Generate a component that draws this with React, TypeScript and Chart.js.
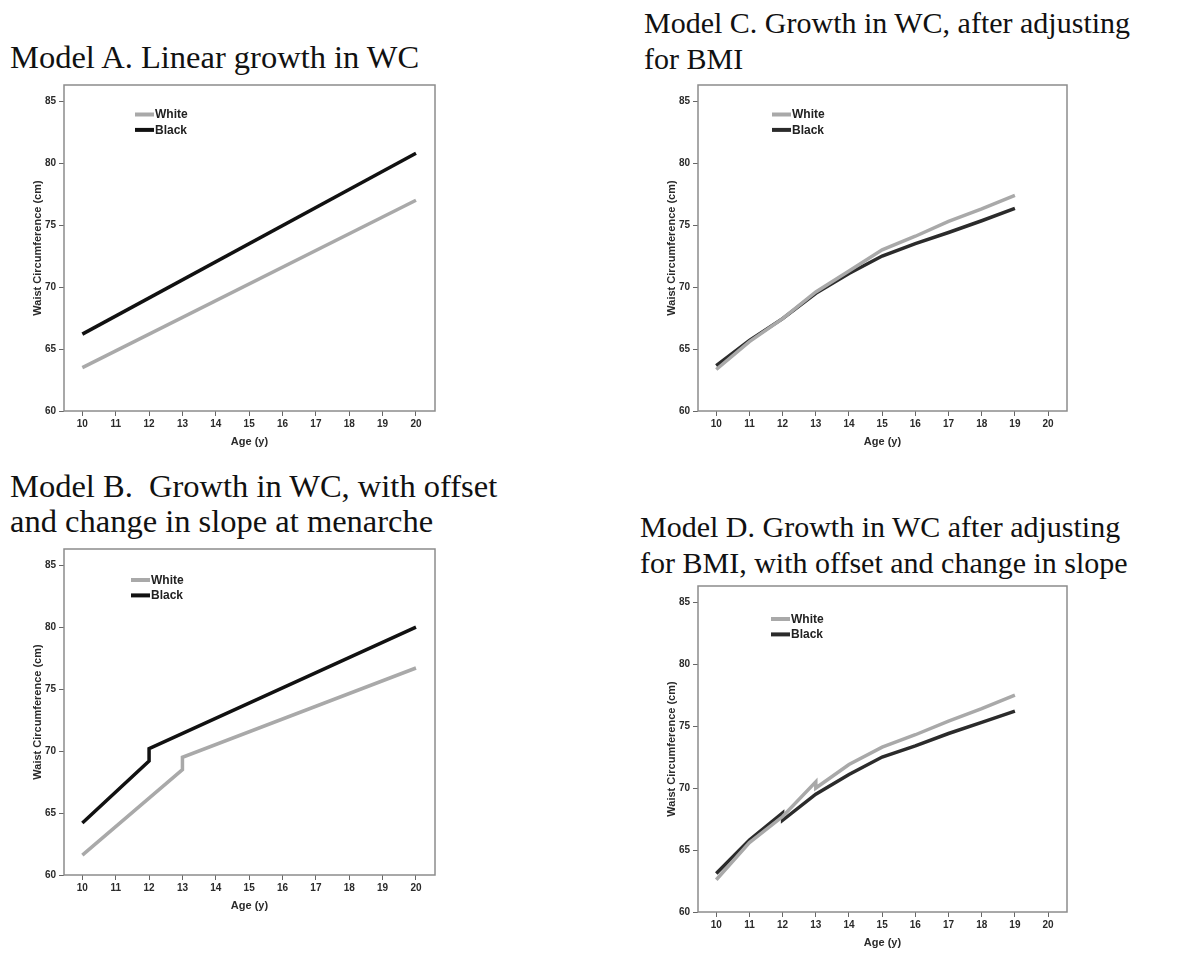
import React, { useEffect, useRef } from "react";
import { Chart, registerables } from "chart.js";

Chart.register(...registerables);

// ---- shared axis settings ----
const yTickValues = [60, 65, 70, 75, 80, 85];
const xTickValues = [10, 11, 12, 13, 14, 15, 16, 17, 18, 19, 20];
const Y_MIN = 60;
const Y_MAX = 86.3;
const X_MIN = 9.45;
const X_MAX = 20.57;
const xAxisTitle = "Age (y)";
const yAxisTitle = "Waist Circumference (cm)";
const seriesNames = ["White", "Black"];

// ---- Model A ----
const whiteAgesA = [10, 20];
const whiteA = [63.5, 77.0];
const blackAgesA = [10, 20];
const blackA = [66.2, 80.8];

// ---- Model B ----
const whiteAgesB = [10, 13, 13, 20];
const whiteB = [61.6, 68.5, 69.5, 76.7];
const blackAgesB = [10, 12, 12, 20];
const blackB = [64.2, 69.2, 70.2, 80.0];

// ---- Model C ----
const whiteAgesC = [10, 11, 12, 13, 14, 15, 16, 17, 18, 19];
const whiteC = [63.35, 65.6, 67.45, 69.6, 71.3, 73.0, 74.1, 75.3, 76.3, 77.4];
const blackAgesC = [10, 11, 12, 13, 14, 15, 16, 17, 18, 19];
const blackC = [63.65, 65.7, 67.45, 69.5, 71.1, 72.5, 73.5, 74.4, 75.35, 76.35];

// ---- Model D ----
const whiteAgesD = [10, 11, 12, 13, 13, 14, 15, 16, 17, 18, 19];
const whiteD = [62.6, 65.6, 67.7, 70.5, 70.0, 71.9, 73.3, 74.3, 75.4, 76.4, 77.5];
const blackAgesD = [10, 11, 12, 12, 13, 14, 15, 16, 17, 18, 19];
const blackD = [63.1, 65.8, 68.0, 67.4, 69.5, 71.1, 72.5, 73.4, 74.4, 75.3, 76.2];

const titleA = ["Model A. Linear growth in WC"];
const titleB = ["Model B.  Growth in WC, with offset", "and change in slope at menarche"];
const titleC = ["Model C. Growth in WC, after adjusting", "for BMI"];
const titleD = ["Model D. Growth in WC after adjusting", "for BMI, with offset and change in slope"];

const toPoints = (xs: number[], ys: number[]) => xs.map((x, i) => ({ x, y: ys[i] }));

type PanelProps = {
  title: string[];
  titleLeft: number;
  titleTop: number;
  titleSize: number;
  titleLineHeight: number;
  chartLeft: number;
  chartTop: number;
  chartW: number;
  chartH: number;
  white: { x: number; y: number }[];
  black: { x: number; y: number }[];
  blackColor: string;
  legendDx: number;
  legendDy: number;
  legendRow: number;
};

const Y_AXIS_W = 64;
const X_AXIS_H = 52;
const PAD_TOP = 8;
const PAD_RIGHT = 10;

function Panel(p: PanelProps) {
  const ref = useRef<HTMLCanvasElement | null>(null);
  const cw = Y_AXIS_W + p.chartW + PAD_RIGHT;
  const ch = PAD_TOP + p.chartH + X_AXIS_H;

  useEffect(() => {
    if (!ref.current) return;
    const framePlugin = {
      id: "frame",
      beforeDatasetsDraw(chart: any) {
        const { ctx, chartArea } = chart;
        ctx.save();
        ctx.strokeStyle = "#8c8c8c";
        ctx.lineWidth = 1.5;
        ctx.strokeRect(chartArea.left, chartArea.top, chartArea.right - chartArea.left, chartArea.bottom - chartArea.top);
        ctx.restore();
      },
    };
    const legendPlugin = {
      id: "insetLegend",
      afterDatasetsDraw(chart: any) {
        const { ctx, chartArea } = chart;
        ctx.save();
        chart.data.datasets.forEach((ds: any, i: number) => {
          const x0 = chartArea.left + p.legendDx;
          const y0 = chartArea.top + p.legendDy + i * p.legendRow;
          ctx.strokeStyle = ds.borderColor;
          ctx.lineWidth = 4;
          ctx.beginPath();
          ctx.moveTo(x0, y0);
          ctx.lineTo(x0 + 19, y0);
          ctx.stroke();
          ctx.fillStyle = "#222";
          ctx.font = "bold 12px 'Liberation Sans', Arial, sans-serif";
          ctx.textBaseline = "middle";
          ctx.textAlign = "left";
          ctx.fillText(ds.label, x0 + 20, y0 + 0.5);
        });
        ctx.restore();
      },
    };
    const tickFont = { family: "'Liberation Sans', Arial, sans-serif", size: 10, weight: "bold" as const };
    const titleFont = { family: "'Liberation Sans', Arial, sans-serif", size: 11, weight: "bold" as const };
    const chart = new Chart(ref.current, {
      type: "line",
      data: {
        datasets: [
          {
            label: seriesNames[0],
            data: p.white,
            borderColor: "#a9a9a9",
            borderWidth: 3.5,
            pointRadius: 0,
            tension: 0,
          },
          {
            label: seriesNames[1],
            data: p.black,
            borderColor: p.blackColor,
            borderWidth: 3.5,
            pointRadius: 0,
            tension: 0,
          },
        ],
      },
      options: {
        animation: false,
        responsive: false,
        maintainAspectRatio: false,
        layout: { padding: { top: PAD_TOP, right: PAD_RIGHT, left: 0, bottom: 0 } },
        plugins: { legend: { display: false }, tooltip: { enabled: false } },
        scales: {
          x: {
            type: "linear",
            min: X_MIN,
            max: X_MAX,
            afterBuildTicks: (s: any) => {
              s.ticks = xTickValues.map((v) => ({ value: v }));
            },
            afterFit: (s: any) => {
              s.height = X_AXIS_H;
            },
            ticks: { color: "#2a2a2a", font: tickFont, padding: 2, maxRotation: 0, autoSkip: false },
            grid: { drawOnChartArea: false, drawTicks: true, tickLength: 5, color: "#666", lineWidth: 1 },
            border: { display: false },
            title: { display: true, text: xAxisTitle, color: "#2a2a2a", font: titleFont, padding: { top: 0, bottom: 14 } },
          },
          y: {
            type: "linear",
            min: Y_MIN,
            max: Y_MAX,
            afterBuildTicks: (s: any) => {
              s.ticks = yTickValues.map((v) => ({ value: v }));
            },
            afterFit: (s: any) => {
              s.width = Y_AXIS_W;
            },
            ticks: { color: "#2a2a2a", font: tickFont, padding: 3 },
            grid: { drawOnChartArea: false, drawTicks: true, tickLength: 5, color: "#666", lineWidth: 1 },
            border: { display: false },
            title: { display: true, text: yAxisTitle, color: "#2a2a2a", font: titleFont, padding: { top: 31, bottom: 0 } },
          },
        },
      },
      plugins: [framePlugin, legendPlugin],
    } as any);
    return () => chart.destroy();
  }, []);

  return (
    <>
      <div
        style={{
          position: "absolute",
          left: p.titleLeft,
          top: p.titleTop,
          fontFamily: "'Liberation Serif', 'Times New Roman', serif",
          fontSize: p.titleSize,
          lineHeight: `${p.titleLineHeight}px`,
          whiteSpace: "pre",
          color: "#111",
        }}
      >
        {p.title.map((t, i) => (
          <div key={i}>{t}</div>
        ))}
      </div>
      <canvas
        ref={ref}
        width={cw}
        height={ch}
        style={{ position: "absolute", left: p.chartLeft - Y_AXIS_W, top: p.chartTop - PAD_TOP, width: cw, height: ch }}
      />
    </>
  );
}

export default function App() {
  return (
    <div style={{ position: "absolute", left: 0, top: 0, width: 1200, height: 959, background: "#fff", overflow: "hidden" }}>
      <Panel
        title={titleA}
        titleLeft={10}
        titleTop={39}
        titleSize={32.5}
        titleLineHeight={36}
        chartLeft={64}
        chartTop={84}
        chartW={371}
        chartH={327}
        white={toPoints(whiteAgesA, whiteA)}
        black={toPoints(blackAgesA, blackA)}
        blackColor="#111111"
        legendDx={71}
        legendDy={29.5}
        legendRow={15.4}
      />
      <Panel
        title={titleB}
        titleLeft={10}
        titleTop={468.5}
        titleSize={32.5}
        titleLineHeight={35}
        chartLeft={64}
        chartTop={547.5}
        chartW={371}
        chartH={327.5}
        white={toPoints(whiteAgesB, whiteB)}
        black={toPoints(blackAgesB, blackB)}
        blackColor="#111111"
        legendDx={67}
        legendDy={31}
        legendRow={15.4}
      />
      <Panel
        title={titleC}
        titleLeft={644}
        titleTop={5}
        titleSize={30}
        titleLineHeight={36}
        chartLeft={697.5}
        chartTop={84}
        chartW={369}
        chartH={327}
        white={toPoints(whiteAgesC, whiteC)}
        black={toPoints(blackAgesC, blackC)}
        blackColor="#2b2b2b"
        legendDx={74}
        legendDy={29.5}
        legendRow={15.4}
      />
      <Panel
        title={titleD}
        titleLeft={640}
        titleTop={509}
        titleSize={30}
        titleLineHeight={36}
        chartLeft={697.5}
        chartTop={584.5}
        chartW={369}
        chartH={327}
        white={toPoints(whiteAgesD, whiteD)}
        black={toPoints(blackAgesD, blackD)}
        blackColor="#2b2b2b"
        legendDx={73}
        legendDy={33}
        legendRow={15.4}
      />
    </div>
  );
}
